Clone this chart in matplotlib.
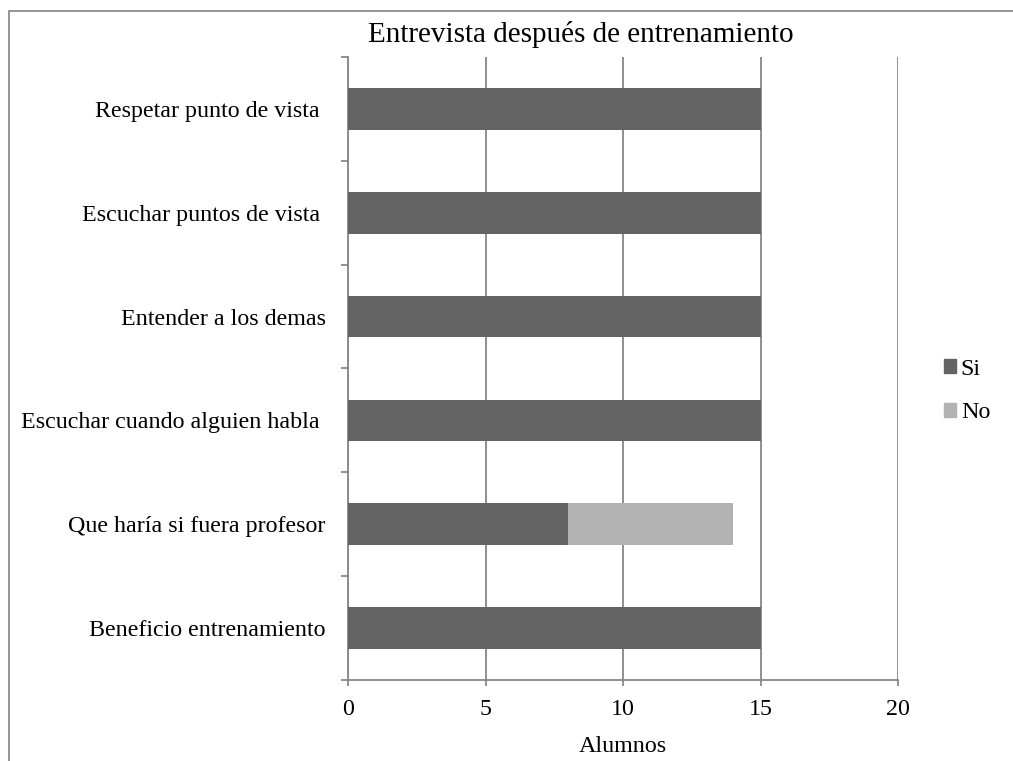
import matplotlib
matplotlib.use('Agg')
import matplotlib.pyplot as plt
from matplotlib.patches import Rectangle, Patch
import numpy as np

plt.rcParams['font.family'] = ['Liberation Serif', 'DejaVu Serif']

# data (bottom to top)
categorias = ['Beneficio entrenamiento',
              'Que haría si fuera profesor',
              'Escuchar cuando alguien habla ',
              'Entender a los demas',
              'Escuchar puntos de vista ',
              'Respetar punto de vista ']
si = [15, 8, 15, 15, 15, 15]
no = [0, 6, 0, 0, 0, 0]
series = ['Si', 'No']
xticks = [0, 5, 10, 15, 20]

c_si = '#646464'
c_no = '#b2b2b2'
c_grid = '#878787'

fig = plt.figure(figsize=(10.13, 7.61), dpi=100)
W, H = 1013, 761
ax = fig.add_axes([348 / W, 1 - 680 / H, 550 / W, 623 / H])

# frame around chart area (cropped at right/bottom)
fig.patches.append(Rectangle((9 / W, -0.1), 1.2, 1 - 11 / H + 0.1,
                             transform=fig.transFigure, fill=False,
                             edgecolor='#8c8c8c', lw=1.3))

y = np.arange(len(categorias))
ax.barh(y, si, height=0.4, color=c_si, zorder=3)
ax.barh(y, no, left=si, height=0.4, color=c_no, zorder=3)

ax.set_xlim(0, 20)
ax.set_ylim(-0.5, len(categorias) - 0.5)
ax.set_xticks(xticks)
ax.xaxis.grid(True, color=c_grid, lw=1.3, zorder=0)
ax.set_yticks(y)
ax.set_yticklabels(categorias)
ax.set_yticks(np.arange(-0.5, len(categorias), 1), minor=True)
ax.tick_params(axis='y', which='major', length=0, pad=16, labelsize=17.3)
ax.tick_params(axis='y', which='minor', length=5, width=1.3, color=c_grid, direction='out')
ax.tick_params(axis='x', length=4, width=1.3, color=c_grid, pad=10, labelsize=17.3)

for s in ['top', 'right']:
    ax.spines[s].set_visible(False)
for s in ['left', 'bottom']:
    ax.spines[s].set_color(c_grid)
    ax.spines[s].set_linewidth(1.3)

ax.set_xlabel('Alumnos', fontsize=17.3, labelpad=11)
fig.text(581 / W, 1 - 34 / H, 'Entrevista después de entrenamiento',
         fontsize=21, ha='center', va='center')

handles = [Patch(color=c_si), Patch(color=c_no)]
fig.legend(handles, series, loc='center left',
           bbox_to_anchor=(944 / W, 1 - 391 / H), frameon=False,
           fontsize=17.3, handlelength=0.5, handleheight=0.5,
           handletextpad=0.2, labelspacing=0.95, borderpad=0, borderaxespad=0)

fig.savefig('out.png', dpi=100)
